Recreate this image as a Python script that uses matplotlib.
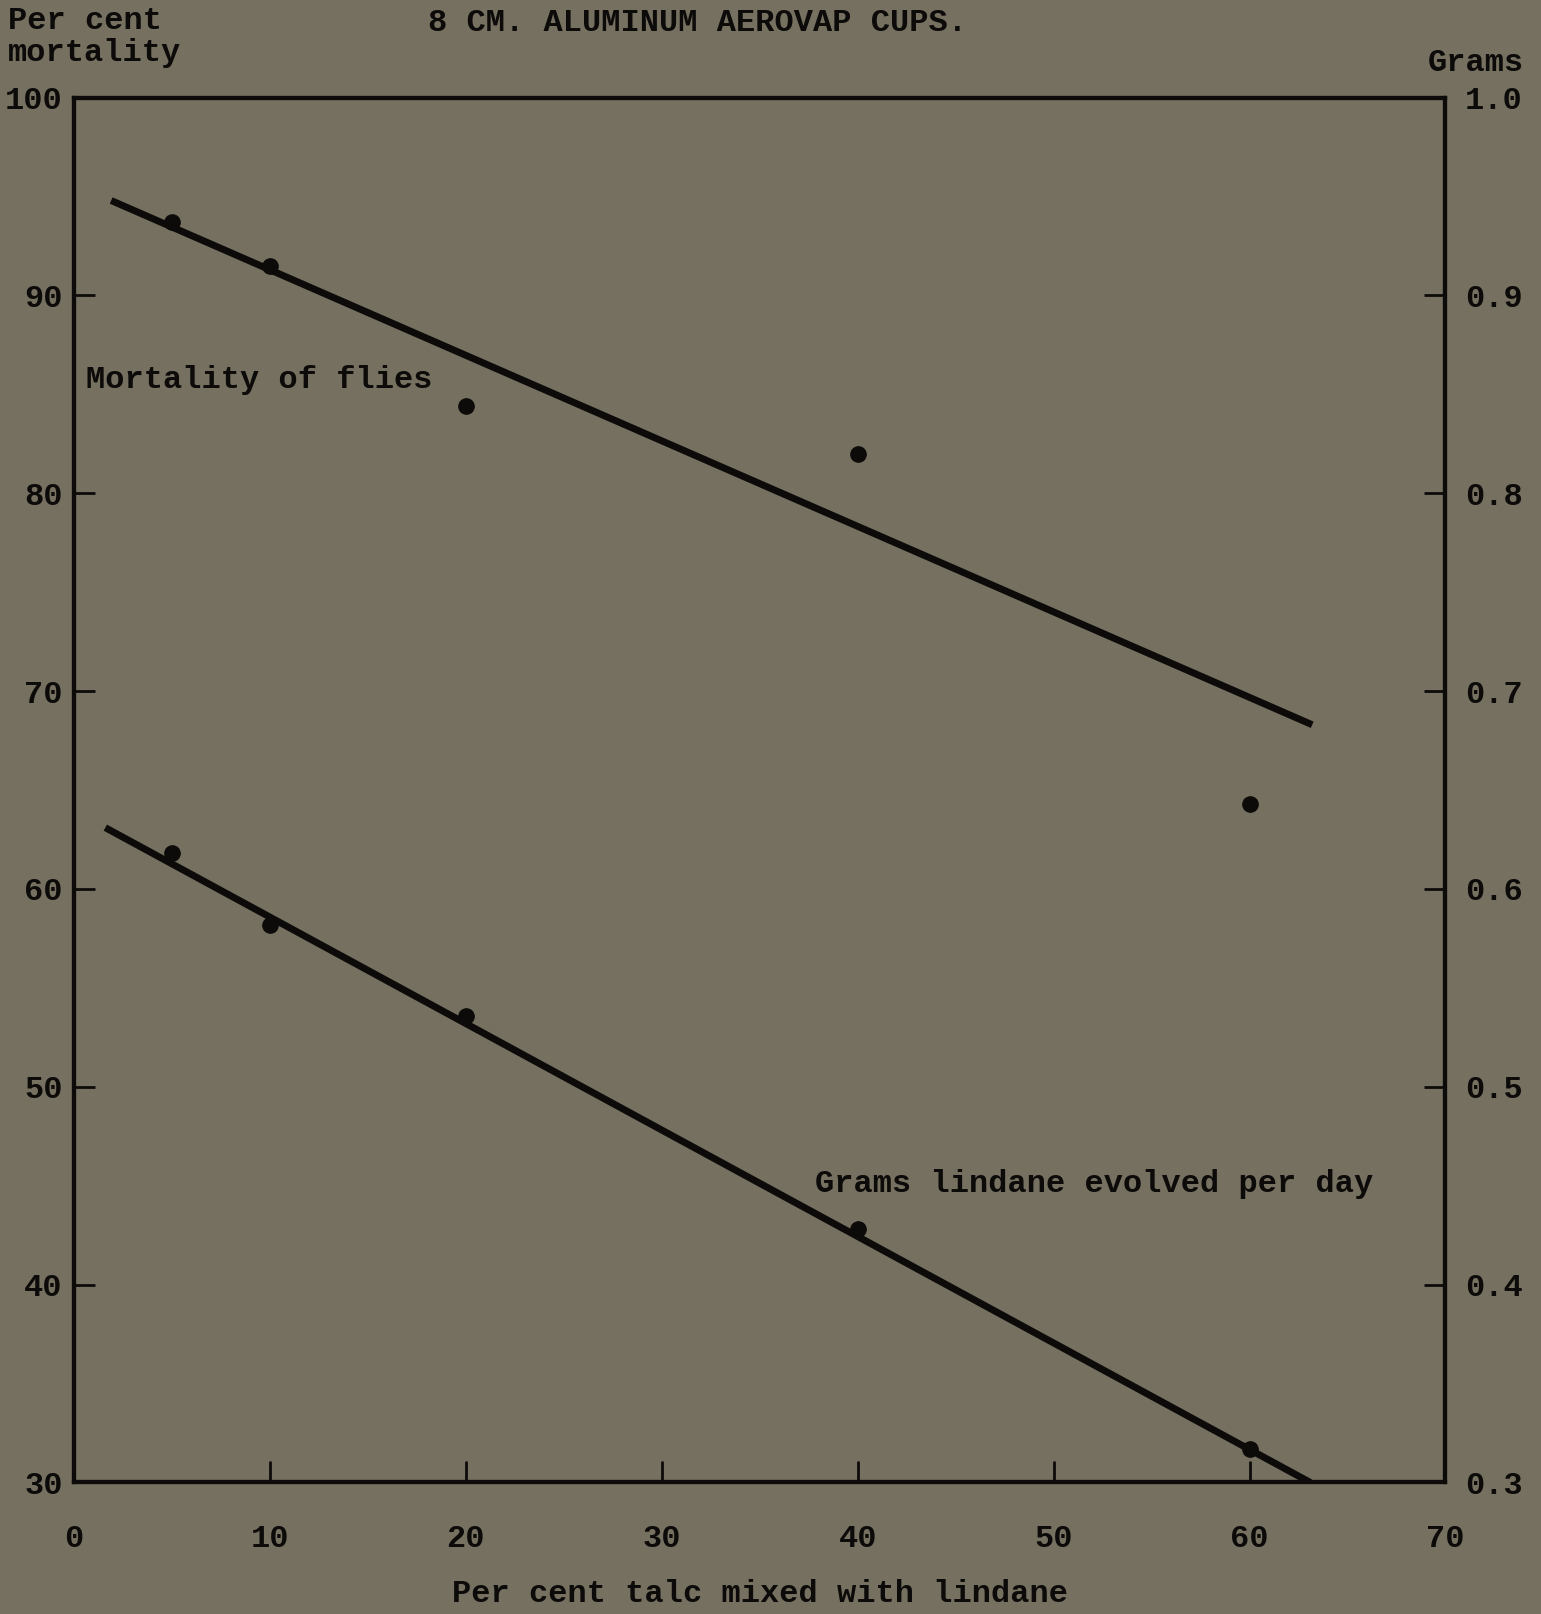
import matplotlib.pyplot as plt

# values
talc_pct = [5, 10, 20, 40, 60]
mortality_pct = [93.7, 91.5, 84.4, 82.0, 64.3]
grams_per_day = [0.618, 0.582, 0.536, 0.428, 0.317]

# fitted lines drawn by hand on the original (end points)
mort_fit_x = [1.9, 63.2]
mort_fit_y = [94.8, 68.3]
grams_fit_x = [1.6, 63.1]
grams_fit_y = [0.631, 0.300]

x_ticks = [0, 10, 20, 30, 40, 50, 60, 70]
left_ticks = [30, 40, 50, 60, 70, 80, 90, 100]
right_ticks = [0.3, 0.4, 0.5, 0.6, 0.7, 0.8, 0.9, 1.0]

BG = "#767060"
INK = "#0c0b09"
FONT = ["Liberation Mono", "DejaVu Sans Mono"]

plt.rcParams["font.family"] = FONT
plt.rcParams["font.weight"] = "bold"
plt.rcParams["axes.labelweight"] = "bold"

fig = plt.figure(figsize=(15.41, 16.14), dpi=100)
fig.patch.set_facecolor(BG)

ax = fig.add_axes([0.048, 0.0815, 0.890, 0.858])
ax.set_facecolor(BG)
ax2 = ax.twinx()

ax.plot(mort_fit_x, mort_fit_y, color=INK, lw=5, solid_capstyle="butt")
ax.plot(talc_pct, mortality_pct, "o", color=INK, ms=11)
ax2.plot(grams_fit_x, grams_fit_y, color=INK, lw=5, solid_capstyle="butt")
ax2.plot(talc_pct, grams_per_day, "o", color=INK, ms=11)

ax.set_xlim(0, 70)
ax.set_ylim(30, 100)
ax2.set_ylim(0.3, 1.0)

for a in (ax, ax2):
    for s in a.spines.values():
        s.set_linewidth(3)
        s.set_color(INK)

ax.set_xticks(x_ticks)
ax.set_xticklabels([str(v) for v in x_ticks])
ax.set_yticks(left_ticks)
ax.set_yticklabels([str(v) for v in left_ticks])
ax2.set_yticks(right_ticks)
ax2.set_yticklabels([f"{v:.1f}" for v in right_ticks])

ax.tick_params(axis="x", direction="in", length=15, width=2, colors=INK,
               labelsize=23, pad=30)
ax.tick_params(axis="y", direction="in", length=15, width=2, colors=INK,
               labelsize=23, pad=8)
ax2.tick_params(axis="y", direction="in", length=15, width=2, colors=INK,
                labelsize=23, pad=14)

ax.set_xlabel("Per cent talc mixed with lindane", fontsize=23, color=INK,
              fontweight="bold", labelpad=18)

ax.text(0.6, 85.3, "Mortality of flies", fontsize=23, color=INK)
ax.text(37.8, 44.7, "Grams lindane evolved per day", fontsize=23, color=INK)

fig.text(0.005, 0.987, "Per cent", fontsize=23, color=INK, va="center")
fig.text(0.005, 0.967, "mortality", fontsize=23, color=INK, va="center")
fig.text(0.958, 0.961, "Grams", fontsize=23, color=INK, va="center",
         ha="center")
fig.text(0.278, 0.986, "8 CM. ALUMINUM AEROVAP CUPS.", fontsize=23,
         color=INK, va="center")

fig.savefig("out.png", dpi=100, facecolor=BG)
